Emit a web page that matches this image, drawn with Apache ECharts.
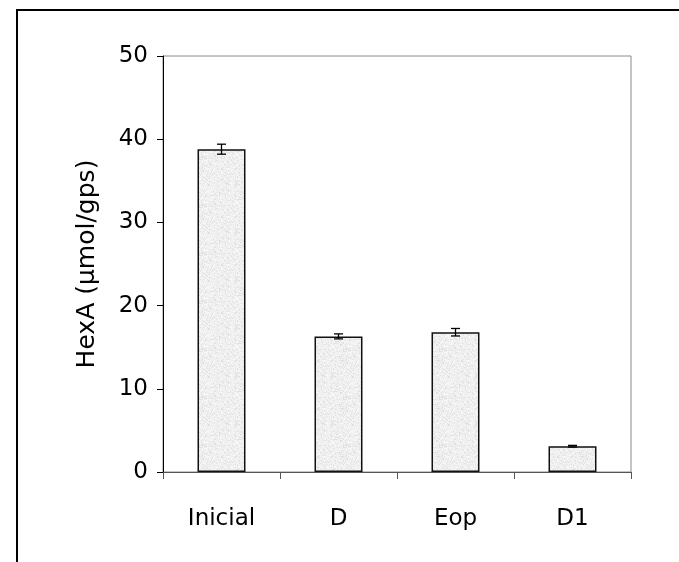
<!DOCTYPE html>
<html>
<head>
<meta charset="utf-8">
<script src="https://cdn.jsdelivr.net/npm/echarts@6/dist/echarts.min.js"></script>
<style>
  html, body { margin: 0; padding: 0; background: #fff; }
  #chart { width: 679px; height: 562px; }
</style>
</head>
<body>
<div id="chart"></div>
<script>
// HexA content per bleaching stage
var categories = ['Inicial', 'D', 'Eop', 'D1'];
var hexaValues = [38.8, 16.3, 16.8, 3.1];
var hexaErrors = [0.6, 0.3, 0.45, 0.1];
var yTicks = [0, 10, 20, 30, 40, 50];

// light grey speckled fill, built from a fixed hash so it is the same every time
function speckle() {
  var c = document.createElement('canvas');
  c.width = 48; c.height = 48;
  var ctx = c.getContext('2d');
  ctx.fillStyle = '#efefef';
  ctx.fillRect(0, 0, 48, 48);
  for (var y = 0; y < 48; y++) {
    for (var x = 0; x < 48; x++) {
      var h = Math.sin(x * 12.9898 + y * 78.233) * 43758.5453;
      h = h - Math.floor(h);
      if (h < 0.18) { ctx.fillStyle = '#e0e0e0'; ctx.fillRect(x, y, 1, 1); }
      else if (h > 0.8) { ctx.fillStyle = '#f8f8f8'; ctx.fillRect(x, y, 1, 1); }
    }
  }
  return c;
}

var font = '"DejaVu Sans", Verdana, sans-serif';
var chart = echarts.init(document.getElementById('chart'), null, { renderer: 'canvas' });

var errData = categories.map(function (c, i) {
  return [i, hexaValues[i] - hexaErrors[i], hexaValues[i] + hexaErrors[i]];
});

chart.setOption({
  animation: false,
  backgroundColor: '#fff',
  graphic: [{
    type: 'rect',
    shape: { x: 17, y: 10, width: 720, height: 620 },
    style: { fill: 'none', stroke: '#000', lineWidth: 2 },
    silent: true
  }],
  grid: {
    left: 163, right: 48, top: 56, bottom: 90,
    show: true, borderColor: '#8a8a8a', borderWidth: 1, backgroundColor: 'transparent'
  },
  xAxis: {
    type: 'category',
    data: categories,
    axisLine: { lineStyle: { color: '#555', width: 1 } },
    axisTick: { show: true, alignWithLabel: false, length: 7, lineStyle: { color: '#555' } },
    axisLabel: { color: '#000', fontFamily: font, fontSize: 23, margin: 36 },
    splitLine: { show: false }
  },
  yAxis: {
    type: 'value',
    min: yTicks[0], max: yTicks[yTicks.length - 1], interval: 10,
    name: 'HexA (\u00b5mol/gps)',
    nameLocation: 'middle',
    nameGap: 63,
    nameRotate: 90,
    nameTextStyle: { color: '#000', fontFamily: font, fontSize: 25 },
    axisLine: { show: true, lineStyle: { color: '#000', width: 1 } },
    axisTick: { show: true, length: 6, lineStyle: { color: '#000' } },
    axisLabel: { color: '#000', fontFamily: font, fontSize: 23, margin: 15 },
    splitLine: { show: false }
  },
  series: [{
    type: 'bar',
    data: hexaValues,
    barWidth: '41%',
    itemStyle: {
      color: { image: speckle(), repeat: 'repeat' },
      borderColor: '#111',
      borderWidth: 1.5
    },
    z: 2
  }, {
    type: 'custom',
    data: errData,
    z: 3,
    renderItem: function (params, api) {
      var lo = api.coord([api.value(0), api.value(1)]);
      var hi = api.coord([api.value(0), api.value(2)]);
      var cap = 4.5;
      var st = { stroke: '#000', lineWidth: 1.3 };
      return {
        type: 'group',
        children: [
          { type: 'line', shape: { x1: hi[0], y1: hi[1], x2: lo[0], y2: lo[1] }, style: st },
          { type: 'line', shape: { x1: hi[0] - cap, y1: hi[1], x2: hi[0] + cap, y2: hi[1] }, style: st },
          { type: 'line', shape: { x1: lo[0] - cap, y1: lo[1], x2: lo[0] + cap, y2: lo[1] }, style: st }
        ]
      };
    }
  }]
});
</script>
</body>
</html>
